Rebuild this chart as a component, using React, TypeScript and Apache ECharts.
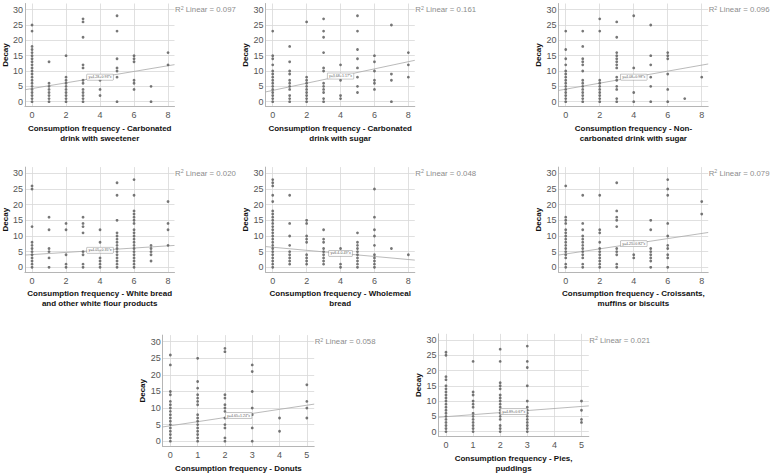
import { useEffect, useRef } from "react";
import * as echarts from "echarts";

// Decay values observed at each consumption frequency (index = frequency)
const sweetenerDrinkDecay = [
  [0, 1, 2, 3, 4, 5, 6, 7, 8, 9, 10, 11, 12, 13, 14, 15, 16, 17, 18, 23, 25],
  [0, 1, 2, 3, 4, 5, 6, 13],
  [0, 1, 2, 3, 4, 5, 6, 7, 8, 15],
  [0, 1, 2, 3, 4, 6, 7, 11, 12, 21, 26, 27],
  [2, 4, 7],
  [0, 8, 10, 11, 14, 23, 28],
  [4, 6, 7, 13, 14, 15],
  [0, 5],
  [12, 16],
];
const sugarDrinkDecay = [
  [0, 1, 2, 3, 4, 5, 6, 7, 8, 9, 10, 12, 14, 15, 23],
  [0, 1, 2, 4, 5, 6, 7, 9, 10, 13, 18],
  [0, 1, 2, 3, 4, 5, 6, 7, 8, 26],
  [0, 1, 3, 4, 5, 6, 10, 11, 16, 21, 23, 27],
  [1, 2, 7, 12],
  [3, 5, 8, 11, 14, 17, 23, 28],
  [4, 6, 7, 10, 13, 15],
  [0, 7, 9, 25],
  [8, 12, 16],
];
const nonCarbonatedDecay = [
  [0, 1, 2, 3, 4, 5, 6, 7, 8, 9, 10, 12, 14, 17, 23],
  [0, 1, 2, 3, 4, 5, 6, 7, 10, 12, 13, 14, 18, 23],
  [0, 1, 2, 3, 4, 5, 6, 7, 23, 27],
  [0, 1, 4, 5, 7, 8, 11, 12, 13, 14, 15, 16, 21, 26],
  [0, 3, 11, 28],
  [0, 5, 8, 12, 15, 25],
  [0, 4, 9, 14, 15, 16],
  [1],
  [8],
];
const whiteBreadDecay = [
  [0, 1, 2, 3, 4, 5, 6, 7, 8, 13, 25, 26],
  [0, 3, 5, 6, 12, 16],
  [0, 1, 4, 12, 14],
  [0, 1, 4, 5, 11, 13, 14, 16],
  [0, 1, 2, 3, 5, 8, 12],
  [0, 1, 2, 3, 4, 5, 6, 7, 8, 9, 10, 11, 15, 23, 27],
  [0, 1, 2, 3, 4, 5, 6, 7, 8, 9, 10, 11, 12, 14, 15, 16, 17, 18, 23, 28],
  [2, 4, 5, 6, 7],
  [7, 12, 14, 21],
];
const wholemealDecay = [
  [0, 1, 2, 3, 4, 5, 6, 7, 8, 9, 10, 11, 12, 13, 14, 15, 16, 17, 18, 21, 23, 26, 27, 28],
  [1, 2, 3, 4, 5, 7, 10, 14, 23],
  [1, 2, 3, 4, 8, 9, 10, 14, 15],
  [1, 2, 3, 4, 5, 6, 8, 9, 12],
  [0, 1, 6],
  [0, 1, 2, 3, 4, 5, 6, 7, 8, 11],
  [0, 1, 2, 3, 4, 7, 10, 12, 16, 25],
  [6],
  [4],
];
const croissantDecay = [
  [0, 1, 3, 4, 5, 6, 7, 8, 9, 10, 11, 12, 14, 15, 16, 26],
  [0, 1, 3, 4, 5, 6, 7, 8, 9, 10, 12, 14, 23],
  [0, 1, 2, 3, 4, 5, 6, 8, 11, 12, 23],
  [0, 1, 4, 5, 6, 13, 15, 16, 18, 27],
  [3, 4, 8],
  [0, 2, 3, 4, 5, 6, 12, 15],
  [0, 3, 4, 6, 7, 10, 14, 23, 25, 28],
  [],
  [17, 21],
];
const donutDecay = [
  [0, 1, 2, 3, 4, 5, 6, 7, 8, 9, 10, 11, 12, 14, 15, 23, 26],
  [0, 1, 2, 3, 4, 5, 6, 7, 8, 11, 12, 13, 14, 16, 18, 25],
  [0, 1, 4, 5, 7, 9, 10, 11, 13, 14, 27, 28],
  [0, 4, 8, 10, 15, 21, 23],
  [3, 7],
  [7, 10, 12, 17],
];
const pieDecay = [
  [0, 1, 2, 3, 4, 5, 6, 7, 8, 9, 10, 11, 12, 13, 14, 15, 17, 18, 25, 26],
  [0, 1, 2, 3, 4, 5, 6, 8, 9, 10, 12, 13, 23],
  [0, 1, 2, 4, 5, 6, 7, 8, 9, 10, 11, 12, 14, 15, 16, 23, 27],
  [0, 1, 2, 3, 4, 5, 6, 7, 8, 10, 15, 21, 23, 28],
  [],
  [3, 4, 7, 10],
];

const panelDecay = [
  sweetenerDrinkDecay,
  sugarDrinkDecay,
  nonCarbonatedDecay,
  whiteBreadDecay,
  wholemealDecay,
  croissantDecay,
  donutDecay,
  pieDecay,
];

const xTitles = [
  "Consumption frequency - Carbonated\ndrink with sweetener",
  "Consumption frequency - Carbonated\ndrink with sugar",
  "Consumption frequency - Non-\ncarbonated drink with sugar",
  "Consumption frequency - White bread\nand other white flour products",
  "Consumption frequency - Wholemeal\nbread",
  "Consumption frequency - Croissants,\nmuffins or biscuits",
  "Consumption frequency - Donuts",
  "Consumption frequency - Pies,\npuddings",
];

// Linear fit per panel: intercept, slope, R²
const fitIntercepts = [4.28, 3.68, 4.08, 4.05, 6.4, 4.25, 4.65, 4.89];
const fitSlopes = [0.93, 1.17, 0.98, 0.35, -0.49, 0.82, 1.24, 0.67];
const rSquared = ["0.097", "0.161", "0.096", "0.020", "0.048", "0.079", "0.058", "0.021"];

const yTickValues = [0, 5, 10, 15, 20, 25, 30];
const xTickValuesWide = [0, 2, 4, 6, 8];
const xTickValuesNarrow = [0, 1, 2, 3, 4, 5];

// Pixel frame of each panel and its data extent
const panels = [
  { left: 24.9, top: 3.5, width: 149.6, height: 103.1, xMin: -0.42, xMax: 8.38, wide: true },
  { left: 265.6, top: 3.5, width: 149.2, height: 103.1, xMin: -0.42, xMax: 8.38, wide: true },
  { left: 558.6, top: 3.5, width: 149.6, height: 103.1, xMin: -0.42, xMax: 8.38, wide: true },
  { left: 24.9, top: 167.1, width: 149.6, height: 105.2, xMin: -0.42, xMax: 8.38, wide: true },
  { left: 265.6, top: 167.1, width: 149.2, height: 105.2, xMin: -0.42, xMax: 8.38, wide: true },
  { left: 558.6, top: 167.1, width: 149.6, height: 105.2, xMin: -0.42, xMax: 8.38, wide: true },
  { left: 162.7, top: 335.1, width: 151.5, height: 111.9, xMin: -0.28, xMax: 5.27, wide: false },
  { left: 438.4, top: 333.9, width: 150.4, height: 106.9, xMin: -0.28, xMax: 5.27, wide: false },
];
const Y_MIN = -1.6;
const Y_MAX = 32;

const FONT = "'Liberation Sans', Arial, sans-serif";

function fmt(n: number) {
  return String(n);
}

export default function App() {
  const ref = useRef<HTMLDivElement>(null);

  useEffect(() => {
    if (!ref.current) return;
    const chart = echarts.init(ref.current, undefined, { renderer: "svg" });

    const grid: any[] = [];
    const xAxis: any[] = [];
    const yAxis: any[] = [];
    const series: any[] = [];
    const title: any[] = [];

    panels.forEach((p, i) => {
      grid.push({ left: p.left, top: p.top, width: p.width, height: p.height, containLabel: false });
      const xTicks = p.wide ? xTickValuesWide : xTickValuesNarrow;
      xAxis.push({
        type: "value",
        gridIndex: i,
        min: p.xMin,
        max: p.xMax,
        name: xTitles[i],
        nameLocation: "middle",
        nameGap: 16.5,
        nameTextStyle: { fontFamily: FONT, fontWeight: "bold", fontSize: 8, color: "#111", lineHeight: 10 },
        axisLine: { show: true, onZero: false, lineStyle: { color: "#b5b5b5", width: 1 } },
        axisTick: { show: false, customValues: xTicks },
        axisLabel: { customValues: xTicks, fontFamily: FONT, fontSize: 9, color: "#555", margin: 4 },
        splitLine: { show: true, lineStyle: { color: "#d8d8d8", width: 0.8 } },
      });
      yAxis.push({
        type: "value",
        gridIndex: i,
        min: Y_MIN,
        max: Y_MAX,
        name: "Decay",
        nameLocation: "middle",
        nameGap: 13,
        nameTextStyle: { fontFamily: FONT, fontWeight: "bold", fontSize: 8, color: "#111" },
        axisLine: { show: true, onZero: false, lineStyle: { color: "#b5b5b5", width: 1 } },
        axisTick: { show: false, customValues: yTickValues },
        axisLabel: { customValues: yTickValues, fontFamily: FONT, fontSize: 9, color: "#555", margin: 2 },
        splitLine: { show: true, lineStyle: { color: "#d8d8d8", width: 0.8 } },
      });

      const pts: number[][] = [];
      panelDecay[i].forEach((vals, freq) => vals.forEach((v) => pts.push([freq, v])));
      series.push({
        type: "scatter",
        xAxisIndex: i,
        yAxisIndex: i,
        data: pts,
        symbol: "circle",
        symbolSize: 2.8,
        itemStyle: { color: "#555" },
        z: 3,
      });

      const a = fitIntercepts[i];
      const b = fitSlopes[i];
      series.push({
        type: "line",
        xAxisIndex: i,
        yAxisIndex: i,
        data: [
          [p.xMin, a + b * p.xMin],
          [p.xMax, a + b * p.xMax],
        ],
        showSymbol: false,
        symbol: "none",
        lineStyle: { color: "#a8a8a8", width: 0.8 },
        z: 2,
      });

      const xMid = p.wide ? 4 : 2.5;
      const eq = `y=${fmt(a)}${b < 0 ? "-" : "+"}${fmt(Math.abs(b))}*x`;
      series.push({
        type: "scatter",
        xAxisIndex: i,
        yAxisIndex: i,
        data: [[xMid, a + b * xMid]],
        symbolSize: 0,
        label: {
          show: true,
          position: "inside",
          formatter: eq,
          fontFamily: FONT,
          fontSize: 3.6,
          color: "#333",
          backgroundColor: "#fff",
          borderColor: "#8a8a8a",
          borderWidth: 0.5,
          padding: [0.8, 1.5],
        },
        z: 5,
      });

      const y30 = p.top + (p.height * (Y_MAX - 30)) / (Y_MAX - Y_MIN);
      title.push({
        text: `{r|R}{s|2}{r| Linear = ${rSquared[i]}}`,
        left: p.left + p.width + 0.5,
        top: y30 - 5.5,
        padding: 0,
        textStyle: {
          fontWeight: "normal",
          rich: {
            r: { fontFamily: FONT, fontSize: 7.8, fontWeight: "normal", color: "#8c8c8c", lineHeight: 11 },
            s: {
              fontFamily: FONT,
              fontSize: 5.3,
              fontWeight: "normal",
              color: "#8c8c8c",
              padding: [0, 0, 4, 0],
              lineHeight: 11,
            },
          },
        },
      });
    });

    chart.setOption({
      animation: false,
      backgroundColor: "#fff",
      textStyle: { fontFamily: FONT },
      title,
      grid,
      xAxis,
      yAxis,
      series,
    });

    return () => chart.dispose();
  }, []);

  return (
    <div
      ref={ref}
      style={{ position: "fixed", left: 0, top: 0, width: 775, height: 474, background: "#fff" }}
    />
  );
}
